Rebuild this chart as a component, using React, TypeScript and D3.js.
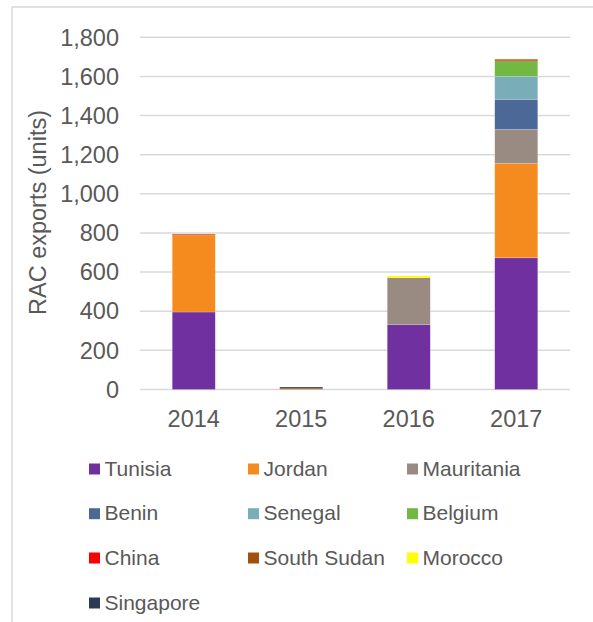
import React from "react";
import * as d3 from "d3";

const years = ["2014", "2015", "2016", "2017"];
const countries = ["Tunisia", "Jordan", "Mauritania", "Benin", "Senegal", "Belgium", "China", "South Sudan", "Morocco", "Singapore"];
const colors = ["#7030a0", "#f58b1f", "#998a82", "#4c6897", "#79adb7", "#72b843", "#ff0000", "#a0520a", "#ffff00", "#2d3a57"];

const tunisia = [396, 0, 331, 673];
const jordan = [393, 5, 0, 482];
const mauritania = [0, 0, 240, 174];
const benin = [0, 0, 0, 154];
const senegal = [0, 0, 0, 118];
const belgium = [0, 0, 0, 80];
const china = [3, 0, 0, 4];
const southSudan = [2, 0, 0, 3];
const morocco = [0, 0, 9, 0];
const singapore = [0, 7, 0, 0];

const series = [tunisia, jordan, mauritania, benin, senegal, belgium, china, southSudan, morocco, singapore];
const yTicks = [0, 200, 400, 600, 800, 1000, 1200, 1400, 1600, 1800];

const FONT = "'Liberation Sans', Arial, sans-serif";
const TEXT = "#595959";

export default function App() {
  const W = 593, H = 622;
  const x = d3.scaleBand<string>().domain(years).range([140, 570]).paddingInner(0.6).paddingOuter(0.3);
  const y = d3.scaleLinear().domain([0, 1800]).range([389.5, 37.3]);

  const rows = years.map((yr, i) => {
    const r: any = { year: yr };
    countries.forEach((c, k) => (r[c] = series[k][i]));
    return r;
  });
  const stacked = d3.stack<any>().keys(countries)(rows);

  const fmt = d3.format(",");
  const legendCols = [89, 248, 407];
  const legendRows = [475.5, 520.2, 564.5, 609.5];

  return (
    <svg width={W} height={H} style={{ position: "absolute", left: 0, top: 0 }}>
      <rect x={0} y={0} width={W} height={H} fill="#fff" />
      <rect x={12} y={7} width={W} height={H} fill="none" stroke="#d9d9d9" strokeWidth={1.5} />
      {yTicks.map((t) => (
        <line key={t} x1={140} x2={570} y1={y(t)} y2={y(t)} stroke="#d9d9d9" strokeWidth={1.5} />
      ))}
      {stacked.map((s, k) => (
        <g key={countries[k]} fill={colors[k]}>
          {s.map((d, i) => {
            const h = y(d[0]) - y(d[1]);
            return d[1] - d[0] > 0 ? (
              <rect
                key={i}
                x={x(years[i])}
                width={x.bandwidth()}
                y={y(d[1])}
                height={h}
                stroke={h > 4 ? "#ffffff" : "none"}
                strokeOpacity={0.3}
                strokeWidth={0.6}
              />
            ) : null;
          })}
        </g>
      ))}
      {yTicks.map((t) => (
        <text key={t} x={119} y={y(t)} dy="0.35em" textAnchor="end" fontFamily={FONT} fontSize={23.5} fill={TEXT}>
          {fmt(t)}
        </text>
      ))}
      {years.map((yr) => (
        <text key={yr} x={(x(yr) as number) + x.bandwidth() / 2} y={427} textAnchor="middle" fontFamily={FONT} fontSize={23.5} fill={TEXT}>
          {yr}
        </text>
      ))}
      <text
        transform="translate(45.5,212.5) rotate(-90)"
        textAnchor="middle"
        fontFamily={FONT}
        fontSize={23.5}
        fill={TEXT}
      >
        RAC exports (units)
      </text>
      {countries.map((c, k) => {
        const col = k % 3;
        const row = Math.floor(k / 3);
        const lx = legendCols[col];
        const ly = legendRows[row];
        return (
          <g key={c}>
            <rect x={lx} y={ly - 12} width={11} height={11} fill={colors[k]} />
            <text x={lx + 15.5} y={ly} fontFamily={FONT} fontSize={21} fill={TEXT}>
              {c}
            </text>
          </g>
        );
      })}
    </svg>
  );
}
